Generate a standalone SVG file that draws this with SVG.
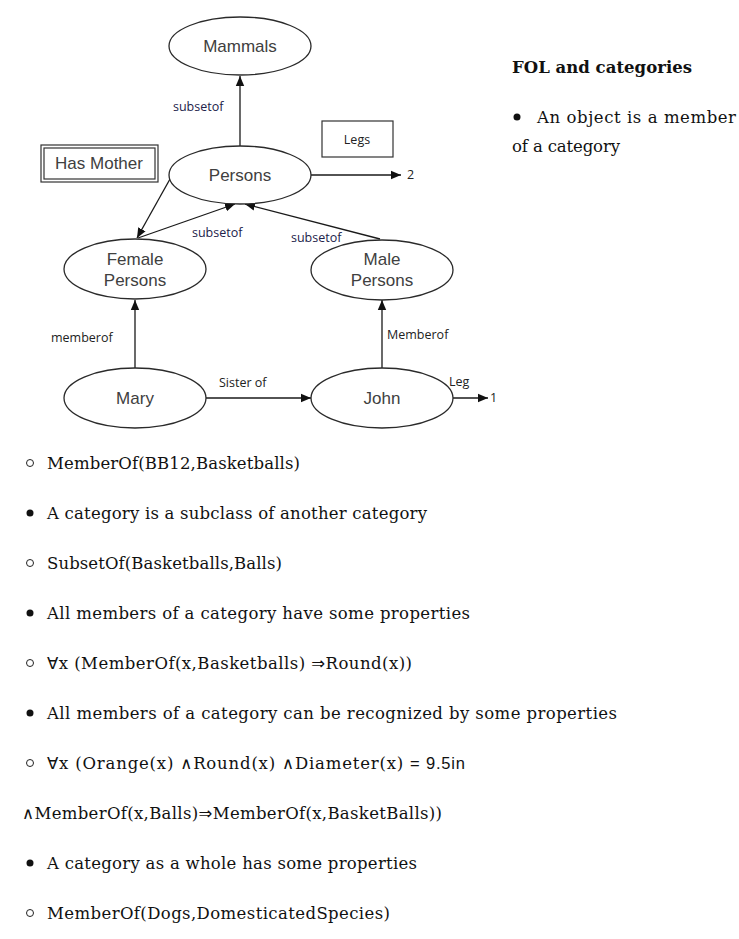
<svg xmlns="http://www.w3.org/2000/svg" width="739" height="939" viewBox="0 0 739 939">
<style>
.node{fill:#fff;stroke:#2a2a2a;stroke-width:1.3}
.nt{font-family:"Liberation Sans",Arial,sans-serif;font-size:17px;fill:#404040;text-anchor:middle}
.lbl{font-family:"Open Sans","Noto Sans",sans-serif;font-size:12.5px;fill:#222}
.sub{fill:#22224a}
.edge{stroke:#1a1a1a;stroke-width:1.3;fill:none;marker-end:url(#ah)}
.body{font-family:"DejaVu Serif","Liberation Serif",serif;font-size:16.5px;fill:#111}
.sym{font-family:"DejaVu Sans",sans-serif}
.bul{fill:#111}
.ring{fill:none;stroke:#222;stroke-width:1}
</style>
<defs>
<marker id="ah" viewBox="0 0 10 10" refX="10" refY="5" markerWidth="10" markerHeight="10" markerUnits="userSpaceOnUse" orient="auto">
<path d="M0,0.8 L10,5 L0,9.2 z" fill="#111"/>
</marker>
</defs>
<rect width="739" height="939" fill="#fff"/>

<g id="connectors">
<line class="edge" x1="240" y1="146" x2="240" y2="76"/>
<line class="edge" x1="170" y1="179" x2="137" y2="238"/>
<line class="edge" x1="138" y1="238" x2="235" y2="204"/>
<line class="edge" x1="380" y1="239" x2="245" y2="204"/>
<line class="edge" x1="311" y1="175" x2="401" y2="175"/>
<line class="edge" x1="135" y1="368" x2="135" y2="300"/>
<line class="edge" x1="206" y1="398" x2="311" y2="398"/>
<line class="edge" x1="382" y1="368" x2="382" y2="300"/>
<line class="edge" x1="453" y1="398" x2="488" y2="398"/>
<text class="lbl sub" x="173" y="111">subsetof</text>
<text class="lbl sub" x="192" y="237">subsetof</text>
<text class="lbl sub" x="291" y="242">subsetof</text>
<text class="lbl" x="51" y="342">memberof</text>
<text class="lbl" x="387" y="339">Memberof</text>
<text class="lbl" x="219" y="387">Sister of</text>
<text class="lbl" x="449" y="386" fill="#5a3a10">Leg</text>
<text class="lbl" x="407" y="179" fill="#22224a">2</text>
<text class="lbl" x="490" y="402" fill="#8a5a10">1</text>
</g>

<g id="mammals"><ellipse class="node" cx="240" cy="46" rx="71" ry="29"/><text class="nt" x="240" y="52">Mammals</text></g>
<g id="persons"><ellipse class="node" cx="240" cy="175" rx="71" ry="29"/><text class="nt" x="240" y="181">Persons</text></g>
<g id="has-mother"><rect x="41" y="145" width="117" height="37" fill="#fff" stroke="#333" stroke-width="1.2"/><rect x="44" y="148" width="111" height="31" fill="none" stroke="#333" stroke-width="1.2"/><text class="nt" x="99" y="169">Has Mother</text></g>
<g id="legs"><rect x="322" y="121" width="71" height="36" fill="#fff" stroke="#333" stroke-width="1.2"/><text class="lbl" x="357" y="144" text-anchor="middle">Legs</text></g>
<g id="female-persons"><ellipse class="node" cx="135" cy="269" rx="71" ry="30"/><text class="nt" x="135" y="265">Female</text><text class="nt" x="135" y="286">Persons</text></g>
<g id="male-persons"><ellipse class="node" cx="382" cy="270" rx="71" ry="30"/><text class="nt" x="382" y="265">Male</text><text class="nt" x="382" y="286">Persons</text></g>
<g id="mary"><ellipse class="node" cx="135" cy="398" rx="71" ry="30"/><text class="nt" x="135" y="404">Mary</text></g>
<g id="john"><ellipse class="node" cx="382" cy="398" rx="71" ry="30"/><text class="nt" x="382" y="404">John</text></g>

<g id="side-text">
<text class="body" x="512" y="73" font-weight="bold" textLength="180">FOL and categories</text>
<circle class="bul" cx="517" cy="117" r="3.5"/>
<text class="body" x="537" y="123" textLength="199">An object is a member</text>
<text class="body" x="512" y="152" textLength="108">of a category</text>
</g>

<g id="body-text">
<circle class="ring" cx="30" cy="463" r="3.5"/>
<text class="body" x="47" y="469" textLength="253">MemberOf(BB12,Basketballs)</text>
<circle class="bul" cx="30" cy="513" r="3.5"/>
<text class="body" x="47" y="519" textLength="380">A category is a subclass of another category</text>
<circle class="ring" cx="30" cy="563" r="3.5"/>
<text class="body" x="47" y="569" textLength="235">SubsetOf(Basketballs,Balls)</text>
<circle class="bul" cx="30" cy="613" r="3.5"/>
<text class="body" x="47" y="619" textLength="423">All members of a category have some properties</text>
<circle class="ring" cx="30" cy="663" r="3.5"/>
<text class="body" x="47" y="669" textLength="365"><tspan class="sym">∀</tspan>x (MemberOf(x,Basketballs) <tspan class="sym">⇒</tspan>Round(x))</text>
<circle class="bul" cx="30" cy="713" r="3.5"/>
<text class="body" x="47" y="719" textLength="570">All members of a category can be recognized by some properties</text>
<circle class="ring" cx="30" cy="763" r="3.5"/>
<text class="body" x="47" y="769" textLength="418"><tspan class="sym">∀</tspan>x  (Orange(x)  <tspan class="sym">∧</tspan>Round(x)  <tspan class="sym">∧</tspan>Diameter(x) <tspan font-family="Liberation Sans, sans-serif">= 9.5in</tspan></text>
<text class="body" x="22" y="819" textLength="420"><tspan class="sym">∧</tspan>MemberOf(x,Balls)<tspan class="sym">⇒</tspan>MemberOf(x,BasketBalls))</text>
<circle class="bul" cx="30" cy="863" r="3.5"/>
<text class="body" x="47" y="869" textLength="370">A category as a whole has some properties</text>
<circle class="ring" cx="30" cy="913" r="3.5"/>
<text class="body" x="47" y="919" textLength="343">MemberOf(Dogs,DomesticatedSpecies)</text>
</g>
</svg>
